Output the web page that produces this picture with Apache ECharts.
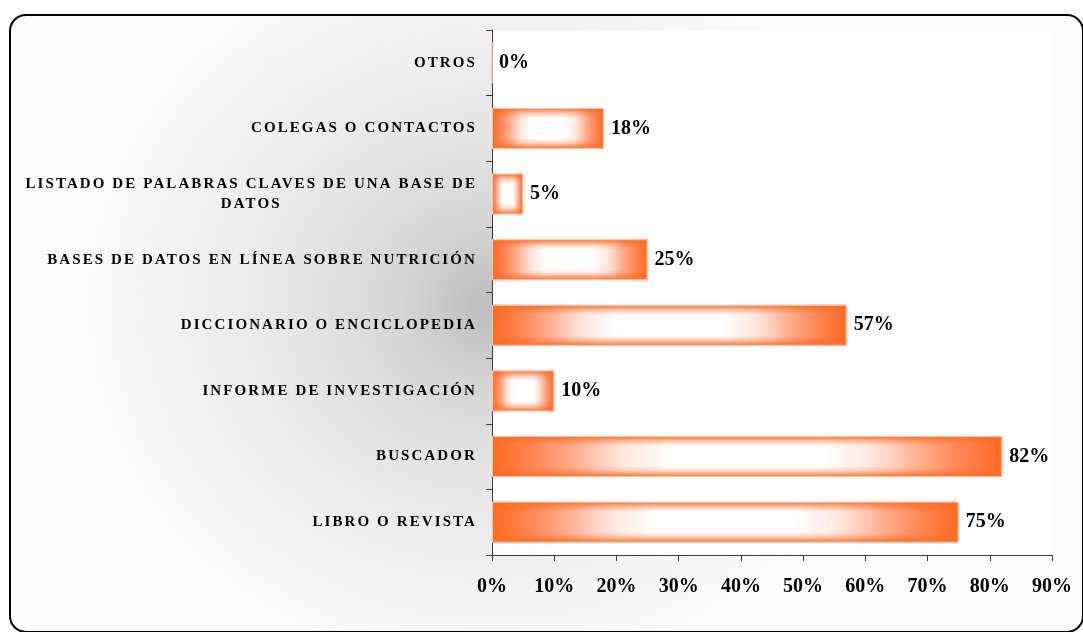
<!DOCTYPE html>
<html>
<head>
<meta charset="utf-8">
<title>Fuentes de información consultadas</title>
<script src="https://cdn.jsdelivr.net/npm/echarts@6/dist/echarts.min.js"></script>
<style>
  html, body { margin: 0; padding: 0; background: #ffffff; }
  #stage { position: relative; width: 1083px; height: 632px; overflow: hidden; }
  /* Soft grey glow inside the rounded frame, strongest next to the value axis. */
  #glow {
    position: absolute; left: 10px; top: 15px; width: 1073px; height: 617px;
    border-radius: 16px;
    background: radial-gradient(ellipse 420px 380px at 480px 290px,
      #bebebe 0%, #c2c2c2 5%, #d5d5d5 21%, #e5e5e5 45%, #f0f0f0 69%, #f9f9f9 92%, #fcfcfc 100%);
  }
  #chart { position: absolute; left: 0; top: 0; width: 1083px; height: 632px; }
</style>
</head>
<body>
<div id="stage">
  <div id="glow"></div>
  <div id="chart"></div>
</div>
<script>
// Categories listed bottom to top, as the category axis stacks them.
const categories = [
  'LIBRO O REVISTA',
  'BUSCADOR',
  'INFORME DE INVESTIGACIÓN',
  'DICCIONARIO O ENCICLOPEDIA',
  'BASES DE DATOS EN LÍNEA SOBRE NUTRICIÓN',
  'LISTADO DE PALABRAS CLAVES DE UNA BASE DE DATOS',
  'COLEGAS O CONTACTOS',
  'OTROS'
];
// Percentage of respondents for each source.
const values = [75, 82, 10, 57, 25, 5, 18, 0];
// Percentage axis ticks.
const axisMin = 0;
const axisMax = 90;
const axisStep = 10;

// The category captions are set in widely tracked capitals: give the 15px
// text some letter spacing; it applies to both measuring and drawing.
(function () {
  const proto = CanvasRenderingContext2D.prototype;
  const desc = Object.getOwnPropertyDescriptor(proto, 'font');
  if (!desc || !('letterSpacing' in proto)) return;
  Object.defineProperty(proto, 'font', {
    configurable: true,
    get: function () { return desc.get.call(this); },
    set: function (v) {
      desc.set.call(this, v);
      this.letterSpacing = /(^|\s)15px\s/.test(v) ? '2.1px' : '0px';
    }
  });
})();

const ORANGE = '#ff6a20';
const serif = '"Liberation Serif", "Times New Roman", serif';

// Break long captions into lines of at most 41 characters.
function wrapCaption(text) {
  const words = text.split(' ');
  const lines = [];
  let line = '';
  words.forEach(function (w) {
    const next = line ? line + ' ' + w : w;
    if (next.length > 41 && line) { lines.push(line); line = w; }
    else line = next;
  });
  lines.push(line);
  return lines.map(function (l) { return '{c|' + l + '}'; }).join('\n');
}

// Orange shading used on the top and bottom edges of each bar.
function edgeAlpha(a) { return 'rgba(255,106,32,' + a + ')'; }

const chart = echarts.init(document.getElementById('chart'), null, { renderer: 'canvas' });

chart.setOption({
  backgroundColor: 'transparent',
  animation: false,
  graphic: [
    {
      // Rounded frame.
      type: 'rect',
      z: -10,
      silent: true,
      shape: { x: 10, y: 15, width: 1073, height: 617, r: 16 },
      style: { fill: null, stroke: '#000000', lineWidth: 2 }
    }
  ],
  grid: {
    left: 492, right: 31, top: 30, bottom: 77,
    show: true, backgroundColor: '#ffffff', borderWidth: 0,
    containLabel: false, outerBoundsMode: 'none'
  },
  xAxis: {
    type: 'value',
    min: axisMin, max: axisMax, interval: axisStep,
    splitLine: { show: false },
    axisLine: { show: true, lineStyle: { color: '#3a3a3a', width: 1 } },
    axisTick: { show: true, length: 6, lineStyle: { color: '#3a3a3a' } },
    axisLabel: {
      margin: 22,
      formatter: '{value}%',
      color: '#000000', fontFamily: serif, fontWeight: 'bold', fontSize: 20
    }
  },
  yAxis: {
    type: 'category',
    data: categories,
    axisLine: { show: true, lineStyle: { color: '#3a3a3a', width: 1 } },
    axisTick: { show: true, length: 6, lineStyle: { color: '#3a3a3a' } },
    axisLabel: {
      margin: 15,
      color: '#000000', fontFamily: serif, fontWeight: 'bold', fontSize: 15,
      formatter: wrapCaption,
      rich: {
        c: {
          align: 'center', color: '#000000', fontFamily: serif,
          fontWeight: 'bold', fontSize: 15, lineHeight: 20
        }
      }
    }
  },
  series: [
    {
      // Bar body: orange at the ends, fading to white in the middle.
      name: 'Porcentaje',
      type: 'bar',
      data: values,
      barWidth: 41,
      itemStyle: {
        color: {
          type: 'linear', x: 0, y: 0, x2: 1, y2: 0,
          colorStops: [
            { offset: 0, color: ORANGE },
            { offset: 0.09, color: '#ff8a5a' },
            { offset: 0.165, color: '#ffb090' },
            { offset: 0.215, color: '#ffd0c0' },
            { offset: 0.26, color: '#ffe8e0' },
            { offset: 0.35, color: '#ffffff' },
            { offset: 0.65, color: '#ffffff' },
            { offset: 0.74, color: '#ffe8e0' },
            { offset: 0.785, color: '#ffd0c0' },
            { offset: 0.835, color: '#ffb090' },
            { offset: 0.91, color: '#ff8a5a' },
            { offset: 1, color: ORANGE }
          ]
        }
      },
      label: {
        show: true,
        position: 'right',
        distance: 7,
        formatter: '{c}%',
        color: '#000000', fontFamily: serif, fontWeight: 'bold', fontSize: 20
      }
    },
    {
      // Top and bottom shading over the same bars, giving a rectangular glow.
      name: 'Sombra',
      type: 'bar',
      data: values,
      barWidth: 41,
      barGap: '-100%',
      silent: true,
      itemStyle: {
        borderColor: '#ffc8b0',
        borderWidth: 1,
        color: {
          type: 'linear', x: 0, y: 0, x2: 0, y2: 1,
          colorStops: [
            { offset: 0, color: edgeAlpha(1) },
            { offset: 0.06, color: edgeAlpha(0.7) },
            { offset: 0.12, color: edgeAlpha(0.4) },
            { offset: 0.18, color: edgeAlpha(0.18) },
            { offset: 0.26, color: edgeAlpha(0) },
            { offset: 0.74, color: edgeAlpha(0) },
            { offset: 0.82, color: edgeAlpha(0.18) },
            { offset: 0.88, color: edgeAlpha(0.4) },
            { offset: 0.94, color: edgeAlpha(0.7) },
            { offset: 1, color: edgeAlpha(1) }
          ]
        }
      },
      label: { show: false }
    }
  ]
});
</script>
</body>
</html>
